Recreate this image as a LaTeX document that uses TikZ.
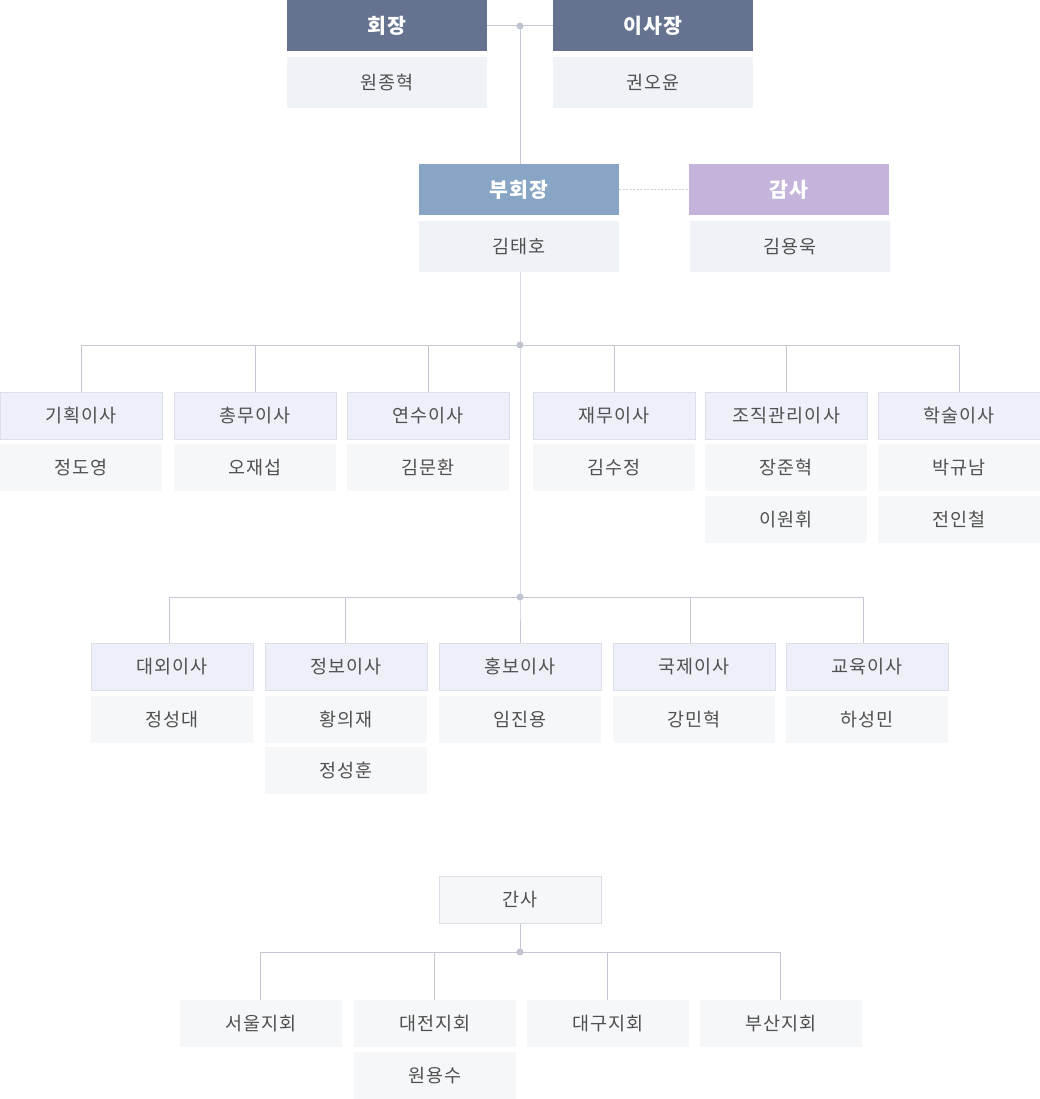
\documentclass[tikz,border=0pt]{standalone}
\usepackage{fontspec}
\setmainfont{Noto Sans CJK KR}[LetterSpace=6]
\definecolor{slate}{HTML}{657391}
\definecolor{vpc}{HTML}{88A5C5}
\definecolor{auc}{HTML}{C4B3DB}
\definecolor{pale}{HTML}{EFF2F7}
\definecolor{headfill}{HTML}{EEF0F9}
\definecolor{headline}{HTML}{DCDFE8}
\definecolor{namefill}{HTML}{F6F7F9}
\definecolor{linec}{HTML}{C5C8D3}
\definecolor{dotc}{HTML}{C0C4D0}
\definecolor{txt}{HTML}{505050}
\definecolor{dashc}{HTML}{CFCCE0}
\begin{document}
\begin{tikzpicture}[x=1pt,y=-1pt,
  box/.style={anchor=north west, inner sep=0pt, minimum width=200pt, minimum height=51pt, text=txt, font=\fontsize{18.5}{22}\selectfont},
  tophead/.style={box, fill=slate, text=white, font=\fontsize{20.5}{24}\selectfont\bfseries},
  vhead/.style={tophead, fill=vpc},
  auhead/.style={tophead, fill=auc},
  topname/.style={box, fill=pale},
  dhead/.style={box, minimum width=161.5pt, minimum height=46.5pt, fill=headfill, draw=headline, line width=1pt},
  dname/.style={box, minimum width=161.5pt, minimum height=47pt, fill=namefill},
  ghead/.style={dhead, fill=namefill},
  line/.style={draw=linec, line width=1pt},
  dashline/.style={draw=dashc, line width=0.8pt, dash pattern=on 2pt off 1.5pt},
  dot/.style={circle, fill=dotc, inner sep=0pt, minimum size=7pt}
]
\useasboundingbox (0,0) rectangle (1040,1099);
% --- top level
\node[tophead] (ch) at (287,0) {회장};
\node[topname] (chn) at (287,57) {원종혁};
\node[tophead] (bd) at (553,0) {이사장};
\node[topname] (bdn) at (553,57) {권오윤};
% --- vice / audit
\node[vhead] (vp) at (419,164) {부회장};
\node[topname] (vpn) at (419,221) {김태호};
\node[auhead] (au) at (689,164) {감사};
\node[topname] (aun) at (690,221) {김용욱};
% --- directors row 1
\node[dhead] (d1) at (0,392) {기획이사};
\node[dname] (d1n) at (0,444) {정도영};
\node[dhead] (d2) at (174,392) {총무이사};
\node[dname] (d2n) at (174,444) {오재섭};
\node[dhead] (d3) at (347,392) {연수이사};
\node[dname] (d3n) at (347,444) {김문환};
\node[dhead] (d4) at (533,392) {재무이사};
\node[dname] (d4n) at (533,444) {김수정};
\node[dhead] (d5) at (705,392) {조직관리이사};
\node[dname] (d5n) at (705,444) {장준혁};
\node[dname] (d5m) at (705,496) {이원휘};
\node[dhead] (d6) at (878,392) {학술이사};
\node[dname] (d6n) at (878,444) {박규남};
\node[dname] (d6m) at (878,496) {전인철};
% --- directors row 2
\node[dhead] (e1) at (91,643) {대외이사};
\node[dname] (e1n) at (91,696) {정성대};
\node[dhead] (e2) at (265,643) {정보이사};
\node[dname] (e2n) at (265,696) {황의재};
\node[dname] (e2m) at (265,747) {정성훈};
\node[dhead] (e3) at (439,643) {홍보이사};
\node[dname] (e3n) at (439,696) {임진용};
\node[dhead] (e4) at (613,643) {국제이사};
\node[dname] (e4n) at (613,696) {강민혁};
\node[dhead] (e5) at (786,643) {교육이사};
\node[dname] (e5n) at (786,696) {하성민};
% --- secretary and branches
\node[ghead] (gs) at (439,876) {간사};
\node[dname] (b1) at (180,1000) {서울지회};
\node[dname] (b2) at (354,1000) {대전지회};
\node[dname] (b2n) at (354,1052) {원용수};
\node[dname] (b3) at (527,1000) {대구지회};
\node[dname] (b4) at (700,1000) {부산지회};
% --- junctions
\coordinate (j1) at (520,26);
\coordinate (j2) at (520,345);
\coordinate (j3) at (520,597);
\coordinate (j4) at (520,952);
% --- connectors
\draw[line] (ch.east) -- (bd.west);
\draw[line] (j1) -- (j1 |- vp.north);
\draw[dashline] (vp.east) -- (au.west);
\draw[line] (j1 |- vpn.south) -- (j3) -- (j3 |- e3.north);
\draw[line] (d1.north |- j2) -- (d6.north |- j2);
\foreach \n in {d1,d2,d3,d4,d5,d6} \draw[line] (\n.north |- j2) -- (\n.north);
\draw[line] ([xshift=-3pt]e1.north |- j3) -- ([xshift=-4pt]e5.north |- j3);
\draw[line] ([xshift=-3pt]e1.north |- j3) -- ([xshift=-3pt]e1.north);
\draw[line] ([xshift=-1pt]e2.north |- j3) -- ([xshift=-1pt]e2.north);
\draw[line] ([xshift=-4pt]e4.north |- j3) -- ([xshift=-4pt]e4.north);
\draw[line] ([xshift=-4pt]e5.north |- j3) -- ([xshift=-4pt]e5.north);
\draw[line] (j4 |- gs.south) -- (j4);
\draw[line] (b1.north |- j4) -- (b4.north |- j4);
\foreach \n in {b1,b2,b3,b4} \draw[line] (\n.north |- j4) -- (\n.north);
% --- dots
\node[dot] (k1) at (j1) {};
\node[dot] (k2) at (j2) {};
\node[dot] (k3) at (j3) {};
\node[dot] (k4) at (j4) {};
\end{tikzpicture}
\end{document}
